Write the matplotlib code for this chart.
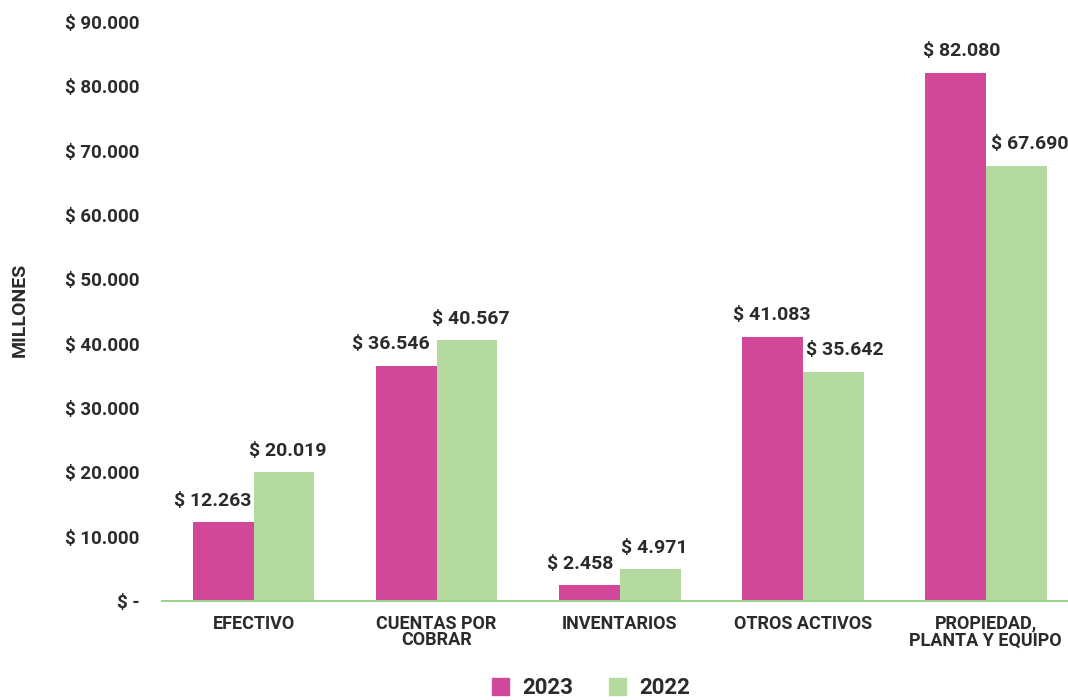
import numpy as np
import matplotlib
matplotlib.use('Agg')
import matplotlib.pyplot as plt
from matplotlib.ticker import FuncFormatter
from matplotlib.patches import Patch

categories = ['EFECTIVO', 'CUENTAS POR\nCOBRAR', 'INVENTARIOS', 'OTROS ACTIVOS', 'PROPIEDAD,\nPLANTA Y EQUIPO']
vals_2023 = [12263, 36546, 2458, 41083, 82080]
vals_2022 = [20019, 40567, 4971, 35642, 67690]
series_names = ['2023', '2022']

C23 = '#D1489A'
C22 = '#B5DAA0'
TXT = '#2b2b2b'
W = 'bold'

# label nudges in pixels (the original labels are not quite centred on the bars)
dx_2023 = [-10, -15, -9, 0, 7]
dx_2022 = [4, 4, 4, 12, 14]

plt.rcParams['font.family'] = ['Roboto', 'DejaVu Sans']
plt.rcParams['font.weight'] = W


def money(v, pos=None):
    if v == 0:
        return '$ -'
    return '$ ' + f'{v:,.0f}'.replace(',', '.')


fig = plt.figure(figsize=(10.68, 7.0), dpi=100)
ax = fig.add_axes([162 / 1068, 1 - 601 / 700, 1 - 162 / 1068, (601 - 22) / 700])

x = np.arange(len(categories))
w = 0.333
b1 = ax.bar(x - w / 2, vals_2023, w, color=C23)
b2 = ax.bar(x + w / 2, vals_2022, w, color=C22)

for bars, vals, dxs in ((b1, vals_2023, dx_2023), (b2, vals_2022, dx_2022)):
    for r, v, d in zip(bars, vals, dxs):
        ax.annotate(money(v), (r.get_x() + r.get_width() / 2, v), xytext=(d * 0.72, 9),
                    textcoords='offset points', ha='center', va='bottom',
                    fontsize=14, fontweight=W, color=TXT)

ax.set_xlim(-0.5, 4.45)
ax.set_ylim(0, 90000)
ax.set_yticks(np.arange(0, 90001, 10000))
ax.yaxis.set_major_formatter(FuncFormatter(money))
ax.set_xticks(x)
ax.set_xticklabels(categories, fontsize=13, fontweight=W, color=TXT, linespacing=0.9)

for s in ['top', 'right', 'left']:
    ax.spines[s].set_visible(False)
ax.spines['bottom'].set_color('#9BD38A')
ax.spines['bottom'].set_linewidth(1.5)
ax.tick_params(axis='x', length=0, pad=10)
ax.tick_params(axis='y', length=0, pad=16, labelsize=13.5, labelcolor=TXT)
for lab in ax.get_yticklabels():
    lab.set_fontweight(W)

fig.text(20 / 1068, 1 - 310 / 700, 'MILLONES', rotation=90, ha='center', va='center',
         fontsize=14, fontweight=W, color=TXT)

handles = [Patch(color=C23), Patch(color=C22)]
fig.legend(handles, series_names, loc='center', bbox_to_anchor=(591 / 1068, 1 - 688 / 700),
           ncol=2, frameon=False, handlelength=0.78, handleheight=0.78,
           columnspacing=1.6, handletextpad=0.6, labelcolor=TXT, prop={'weight': W, 'size': 16})

fig.savefig('out.png', dpi=100)
